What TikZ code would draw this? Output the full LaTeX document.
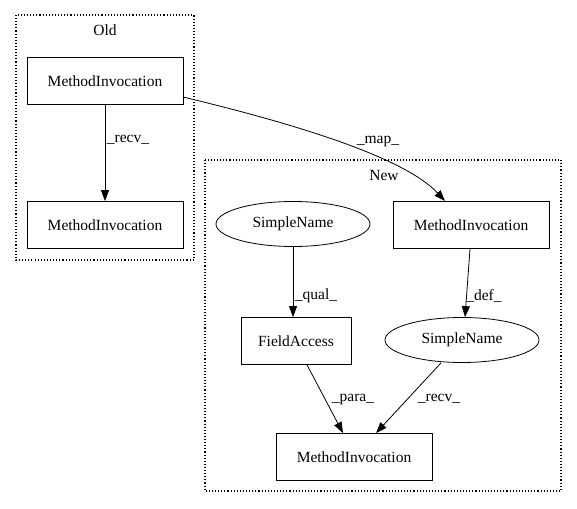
\documentclass[tikz,border=0pt]{standalone}
\usepackage{fontspec}
\setmainfont{Liberation Serif}
\usetikzlibrary{arrows.meta,shapes.geometric,calc}
\begin{document}
\begin{tikzpicture}[x=1pt,y=-1pt,
  every node/.style={font=\fontsize{15.5}{18}\selectfont},
  box/.style={draw,thick,minimum width=156pt,minimum height=47pt,inner sep=2pt},
  fbox/.style={draw,thick,minimum width=110pt,minimum height=47pt,inner sep=2pt},
  ell/.style={draw,thick,ellipse,minimum width=154pt,minimum height=45pt,inner sep=0pt},
  cluster/.style={draw,dotted,line width=1.1pt},
  edge/.style={thick,-{Triangle[length=11pt,width=8pt]}},
  lbl/.style={inner sep=0pt}]
\useasboundingbox (0,0) rectangle (577,508);
\draw[cluster] (16,15) rectangle (194,260);
\draw[cluster] (205,160) rectangle (561,491);
\node[lbl] (oldlbl) at (105,30) {Old};
\node[lbl] (newlbl) at (384,175) {New};
\node[box] (omi) at (105,81) {MethodInvocation};
\node[box] (omi2) at (105,225) {MethodInvocation};
\node[box] (nmi) at (471,225) {MethodInvocation};
\node[ell] (sn1) at (293,224) {SimpleName};
\node[fbox] (fa) at (296,341) {FieldAccess};
\node[ell] (sn2) at (462,340) {SimpleName};
\node[box] (bmi) at (354,457) {MethodInvocation};
\coordinate (mapstart) at (183,97);
\coordinate (mapend) at (445,201);
\draw[edge] (mapstart) .. controls (300,125) and (405,158) .. (mapend);
\draw[edge] (omi) -- (omi2);
\draw[edge] (sn1.south) -- ($(fa.north)+(-3,0)$);
\draw[edge] ($(nmi.south)+(-1,0)$) -- ($(sn2.north)+(3,0)$);
\draw[edge] ($(fa.south)+(11,0)$) -- ($(bmi.north)+(-11,0)$);
\draw[edge] ($(sn2.south)+(-21,0)$) -- ($(bmi.north)+(22,0)$);
\node[lbl] (l1) at (128,140) {\_recv\_};
\node[lbl] (l2) at (378,141) {\_map\_};
\node[lbl] (l3) at (316,296) {\_qual\_};
\node[lbl] (l4) at (484,296) {\_def\_};
\node[lbl] (l5) at (353,399) {\_para\_};
\node[lbl] (l6) at (439,399) {\_recv\_};
\end{tikzpicture}
\end{document}
